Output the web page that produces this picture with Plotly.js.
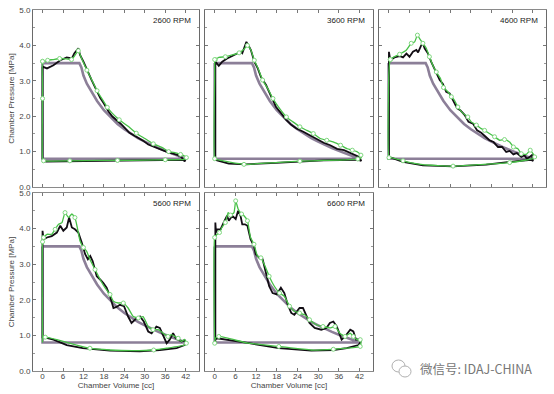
<!DOCTYPE html>
<html><head><meta charset="utf-8">
<script src="https://cdn.plot.ly/plotly-3.0.1.min.js"></script>
<style>html,body{margin:0;padding:0;background:#fff}#chart{width:554px;height:394px}</style>
</head><body><div id="chart"></div>
<script>
// ---------------- DATA ----------------
const rpmLabels = ["2600 RPM", "3600 RPM", "4600 RPM", "5600 RPM", "6600 RPM"];
const xTickVals = [0, 6, 12, 18, 24, 30, 36, 42];
const yTickVals = [0, 1, 2, 3, 4, 5];

// ideal cycle (purple), same for all speeds
const idealV = [0, 10.8, 11.4, 12, 13, 14, 15, 16, 18, 20, 22, 24, 26, 28, 30, 32, 34, 36, 38, 40, 42, 0, 0];
const idealP = [3.5, 3.5, 3.38, 3.15, 2.92, 2.75, 2.58, 2.43, 2.17, 1.96, 1.78, 1.63, 1.50, 1.38, 1.28, 1.18, 1.10, 1.02, 0.95, 0.88, 0.80, 0.80, 3.5];

// 2600 RPM
const m2600V = [0,1.3,3.2,5.2,7.1,8.6,9.3,10.5,11.0,12.0,14.4,15.5,16.9,18,19.3,20.5,21.7,23,24.2,25.5,26.6,28,29.5,31,32.5,34,35.4,37,38.3,39.5,40.7,41.7,42.0,41.5,35,25,15,5,1,0.3,0,0];
const m2600P = [3.40,3.35,3.44,3.58,3.66,3.63,3.77,3.92,3.73,3.54,3.02,2.80,2.52,2.36,2.14,1.99,1.90,1.78,1.66,1.53,1.47,1.40,1.31,1.20,1.14,1.09,1.04,0.97,0.94,0.91,0.85,0.72,0.80,0.76,0.76,0.75,0.74,0.73,0.72,0.75,0.8,3.40];
const s2600V = [0,0.5,1.5,3,5,7,8.5,9.5,10.5,11.5,13,14.5,16,17.5,19,20.5,22.5,25,27.5,30,32.5,35,37,38.5,40.5,41.5,42.2,41.5,36,30,22,16,8,1,0.3,0,0,0,0];
const s2600P = [3.55,3.55,3.58,3.60,3.63,3.62,3.60,3.72,3.85,3.62,3.30,3.02,2.72,2.48,2.25,2.08,1.90,1.72,1.52,1.37,1.22,1.12,1.00,0.98,0.92,0.88,0.83,0.78,0.77,0.76,0.75,0.75,0.74,0.73,0.74,0.78,2.50,2.85,3.55];

// 3600 RPM
const m3600V = [0.2,0.7,1.2,2.2,3.6,5.1,6.6,7.5,8.0,8.8,9.2,9.8,10.5,11.5,12.5,13.4,14.9,16.4,17.8,19.3,20.8,22.3,23.7,25.7,27.6,29.6,31.6,33.5,35.5,37.5,39.4,40.9,41.9,42.5,41.5,31.6,24.7,17.8,9.0,4.1,0.7,0.2,0.2];
const m3600P = [3.54,3.49,3.42,3.54,3.63,3.70,3.77,3.82,3.78,3.96,4.10,4.00,3.87,3.54,3.35,3.11,2.88,2.55,2.26,2.08,1.89,1.75,1.65,1.56,1.46,1.34,1.25,1.18,1.08,1.04,0.96,0.90,0.85,0.74,0.77,0.75,0.71,0.68,0.64,0.66,0.75,0.78,3.54];
const s3600V = [0.2,1.2,3.1,5.1,7.1,8.5,9.5,10.5,11.5,12.6,13.9,15.4,16.9,18.8,20.8,22.7,24.7,26.7,28.6,30.6,32.5,34.5,36.5,38.4,39.9,41.4,42.4,42.5,41.5,31.6,24.7,17.6,8.5,0.7,0,0,0];
const s3600P = [3.60,3.66,3.68,3.73,3.79,3.89,4.00,3.87,3.58,3.35,3.02,2.78,2.50,2.22,1.98,1.84,1.70,1.60,1.51,1.37,1.32,1.27,1.18,1.08,1.04,0.99,0.90,0.83,0.79,0.75,0.73,0.69,0.64,0.77,0.80,3.08,3.60];

// 4600 RPM
const m4600V = [0.1,0.5,1.7,3.2,4.2,5.2,6.1,7.1,8.1,8.6,9.5,10.0,10.5,11.5,12.4,13.9,14.9,15.8,16.8,17.8,18.8,20.0,20.9,22.2,23.3,24.6,25.8,27.0,28.3,29.4,30.6,31.9,33.1,34.3,35.3,36.4,37.4,38.7,39.6,40.3,41.1,41.8,42.1,41.6,35.3,28.5,18.8,10.0,4.2,0.6,0.1,0.1];
const m4600P = [3.82,3.58,3.66,3.70,3.66,3.77,3.68,3.82,3.87,3.80,4.00,4.06,3.92,3.77,3.54,3.25,3.02,2.92,2.69,2.64,2.45,2.22,2.17,2.03,1.84,1.79,1.60,1.53,1.42,1.32,1.27,1.13,1.13,0.99,1.02,0.92,0.96,0.85,0.90,0.80,0.85,0.90,0.73,0.77,0.71,0.63,0.58,0.61,0.71,0.83,0.85,3.82];
const s4600V = [0.5,1.3,3.2,5.2,6.6,7.6,8.4,9.0,10.0,11.0,11.9,12.9,13.9,15.1,16.0,17.3,18.3,19.2,20.2,21.7,23.1,24.1,25.6,27.0,28.0,29.4,30.9,32.4,33.8,35.3,36.4,37.7,38.7,40.1,41.3,42.1,42.6,42.1,35.3,26.1,18.8,10.0,4.2,0.8,0.1,0.1,0.5];
const s4600P = [3.60,3.66,3.75,3.87,4.06,4.10,4.29,4.20,4.06,3.92,3.68,3.44,3.25,3.07,2.81,2.69,2.55,2.45,2.26,2.08,1.98,1.84,1.75,1.65,1.60,1.51,1.42,1.32,1.34,1.27,1.13,1.08,0.94,0.92,1.04,0.94,0.85,0.80,0.69,0.63,0.59,0.63,0.74,0.83,0.83,3.24,3.60];

// 5600 RPM
const m5600V = [0,0.3,1.3,2.7,4.2,5.2,6.1,7.1,7.8,8.6,9.5,10.5,11.5,12.5,13.3,14.0,14.7,15.9,16.9,17.8,18.8,19.8,20.8,21.7,22.7,23.9,25.1,26.1,27.1,28.6,29.7,31.0,32.0,33.4,34.4,35.4,36.4,37.3,38.3,39.1,40.1,40.8,41.7,42.2,41.7,39.3,34.4,28.5,19.8,11.8,7.1,3.2,0.3,0,0];
const m5600P = [3.94,3.70,3.75,3.79,3.89,4.08,3.94,4.03,4.31,4.03,3.98,3.89,3.61,3.28,3.14,3.23,3.09,2.66,2.57,2.48,2.34,2.10,1.77,1.80,1.86,1.82,1.53,1.35,1.44,1.53,1.39,1.11,1.06,1.25,1.21,0.97,0.78,0.88,1.06,0.92,0.88,0.83,0.86,0.78,0.73,0.64,0.59,0.55,0.57,0.64,0.73,0.88,0.95,0.92,3.94];
const s5600V = [0.3,1.3,2.7,3.7,4.7,5.7,6.6,7.6,8.6,9.5,10.2,11.0,12.0,12.9,13.9,15.4,16.9,18.3,19.8,20.8,22.2,23.7,25.1,26.6,28.1,29.5,31.0,32.4,33.9,35.4,36.8,37.8,38.8,39.8,40.7,41.7,42.2,41.7,36.4,32.6,26.6,19.8,13.9,10.0,4.2,0.8,0,0,0,0.3];
const s5600P = [3.75,3.84,3.84,3.98,4.12,4.17,4.45,4.31,4.41,4.31,4.03,3.65,3.47,3.37,3.14,2.85,2.57,2.34,2.15,1.96,1.91,1.91,1.77,1.53,1.49,1.53,1.25,1.16,1.16,1.06,0.97,1.02,0.97,0.92,0.83,0.89,0.78,0.73,0.64,0.59,0.57,0.59,0.64,0.73,0.88,0.95,0.92,0.80,3.63,3.75];

// 6600 RPM
const m6600V = [0.2,0.4,0.7,1.7,2.6,3.6,4.1,5.1,6.1,6.8,7.5,8.0,8.8,9.5,10.4,11.4,11.9,12.9,13.9,14.6,15.8,16.8,18.0,19.2,20.2,21.2,22.2,23.1,24.6,25.6,26.6,27.5,29.0,30.9,32.4,33.4,34.4,35.4,36.8,37.8,39.3,40.2,41.0,41.7,42.4,41.7,38.3,34.4,28.0,18.6,10.0,4.1,0.7,0.2,0.2,0.2];
const m6600P = [4.17,3.89,3.98,3.98,4.17,4.36,4.22,4.36,4.27,4.50,4.36,4.12,4.12,4.08,3.70,3.51,3.28,3.18,3.14,2.85,2.38,2.19,2.15,2.34,2.19,1.86,1.63,1.58,1.77,1.77,1.53,1.35,1.21,1.16,1.21,1.35,1.39,1.25,0.88,0.97,1.16,1.11,0.88,0.89,0.83,0.73,0.64,0.59,0.57,0.64,0.78,0.88,0.92,0.88,0.78,4.17];
const s6600V = [0,0.7,1.4,2.1,3.1,3.9,4.6,5.6,6.1,6.8,7.8,8.5,9.5,10.4,11.4,12.4,13.4,14.6,15.8,17.3,18.8,20.2,21.7,23.1,24.6,26.1,27.5,29.5,31.4,33.4,34.9,36.3,37.8,39.3,40.2,41.2,42.2,42.4,42.2,38.3,34.4,28.0,18.6,9.8,1.2,0.2,0,0];
const s6600P = [3.75,3.84,3.89,4.03,4.17,4.45,4.38,4.45,4.78,4.55,4.41,4.36,4.22,3.75,3.56,3.23,3.18,2.95,2.66,2.38,2.19,2.10,1.82,1.68,1.63,1.58,1.44,1.30,1.25,1.21,1.25,1.06,0.97,1.06,0.97,0.88,0.88,0.78,0.69,0.64,0.61,0.59,0.69,0.78,0.97,0.92,0.78,3.75];

const measuredV = [m2600V, m3600V, m4600V, m5600V, m6600V];
const measuredP = [m2600P, m3600P, m4600P, m5600P, m6600P];
const simV = [s2600V, s3600V, s4600V, s5600V, s6600V];
const simP = [s2600P, s3600P, s4600P, s5600P, s6600P];

// ---------------- LAYOUT ----------------
const W = 554, H = 394;
const panelsPx = [ // [x0,x1,y0,y1] in pixels (top-left origin)
  [33, 199, 10, 187], [205, 373, 10, 187], [379, 546, 10, 187],
  [33, 199, 193, 371], [205, 373, 193, 371]
];
const FONT = "Liberation Sans, Arial, sans-serif";
const traces = [];
const layout = {
  width: W, height: H, margin: {l: 0, r: 0, t: 0, b: 0},
  paper_bgcolor: "#fff", plot_bgcolor: "#fff", showlegend: false,
  font: {family: FONT, size: 8, color: "#444"},
  annotations: [], shapes: []
};

panelsPx.forEach((p, i) => {
  const n = i === 0 ? "" : String(i + 1);
  const xa = "x" + n, ya = "y" + n;
  const showX = i >= 3, showY = (i === 0 || i === 3);
  layout["xaxis" + n] = {
    domain: [p[0] / W, p[1] / W], anchor: ya, range: [-2.8, 45.9],
    tickvals: xTickVals, ticktext: xTickVals.map(String), showticklabels: showX,
    ticks: "inside", ticklen: 3, tickcolor: "#777", tickwidth: 1,
    ticklabelstandoff: -3,
    showline: true, linecolor: "#8a8a8a", linewidth: 1, mirror: "allticks",
    showgrid: false, zeroline: false,
    tickfont: {size: 8, color: "#444"},
    title: showX ? {text: "Chamber Volume [cc]", font: {size: 8, color: "#444"}, standoff: 0} : {text: ""}
  };
  layout["yaxis" + n] = {
    domain: [1 - p[3] / H, 1 - p[2] / H], anchor: xa, range: [0, 5],
    tickvals: yTickVals, ticktext: yTickVals.map(v => v.toFixed(1)), showticklabels: showY,
    ticks: "inside", ticklen: 3, tickcolor: "#777", tickwidth: 1,
    minor: {dtick: 0.5, ticks: "inside", ticklen: 2, tickcolor: "#999"},
    showline: true, linecolor: "#6a6a6a", linewidth: 1, mirror: "allticks",
    showgrid: false, zeroline: false,
    tickfont: {size: 8, color: "#444"},
    title: showY ? {text: "Chamber Pressure [MPa]", font: {size: 8, color: "#444"}, standoff: 3} : {text: ""}
  };
  traces.push({x: idealV, y: idealP, xaxis: xa, yaxis: ya, mode: "lines",
    line: {color: "#8c7f98", width: 2.6}, hoverinfo: "skip"});
  traces.push({x: measuredV[i], y: measuredP[i], xaxis: xa, yaxis: ya, mode: "lines",
    line: {color: "#120d14", width: 1.8}, hoverinfo: "skip"});
  traces.push({x: simV[i], y: simP[i], xaxis: xa, yaxis: ya, mode: "lines",
    line: {color: "#47c047", width: 1.3, shape: "spline", smoothing: 0.4}, hoverinfo: "skip"});
  traces.push({x: simV[i], y: simP[i], xaxis: xa, yaxis: ya, mode: "markers",
    marker: {symbol: "circle", size: 4, color: "#ffffff", maxdisplayed: 24,
      line: {color: "#7fd87f", width: 1}}, hoverinfo: "skip"});
  layout.annotations.push({
    text: rpmLabels[i], xref: xa + " domain", yref: ya + " domain",
    x: 0.965, y: 0.98, xanchor: "right", yanchor: "top", showarrow: false,
    font: {size: 8, color: "#222", family: FONT}
  });
});

// watermark
layout.annotations.push({
  text: "微信号: IDAJ-CHINA", xref: "paper", yref: "paper",
  x: 418 / W, y: 1 - 368 / H, xanchor: "left", yanchor: "middle", showarrow: false,
  font: {size: 12.5, color: "#777", family: "Noto Sans CJK SC, sans-serif"}
});
layout.shapes.push(
  {type: "circle", xref: "paper", yref: "paper", x0: 392 / W, x1: 405 / W, y0: 1 - 372 / H, y1: 1 - 360 / H, line: {color: "#b0b0b0", width: 1}},
  {type: "circle", xref: "paper", yref: "paper", x0: 399 / W, x1: 411 / W, y0: 1 - 377 / H, y1: 1 - 366 / H, line: {color: "#b0b0b0", width: 1}, fillcolor: "#fff"}
);

Plotly.newPlot("chart", traces, layout, {staticPlot: true, displayModeBar: false});
</script></body></html>
